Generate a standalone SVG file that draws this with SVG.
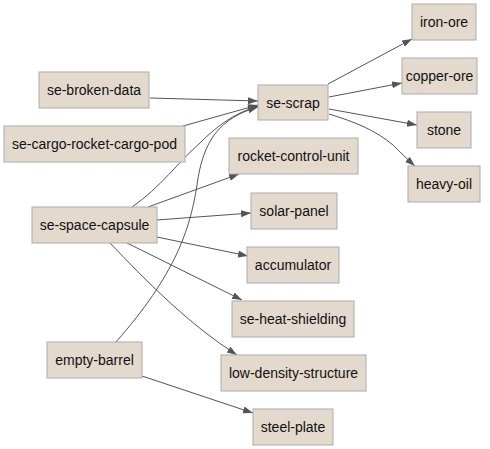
<svg xmlns="http://www.w3.org/2000/svg" width="490" height="449" viewBox="0 0 490 449">
<style>
.n rect{fill:#e3d9cd;stroke:#ababab;stroke-width:1}
.n text{font-family:"Liberation Sans",Arial,sans-serif;font-size:14px;fill:#111;text-anchor:middle}
.e path{fill:none;stroke:#555;stroke-width:1;marker-end:url(#a)}
</style>
<defs>
<marker id="a" markerUnits="userSpaceOnUse" markerWidth="11" markerHeight="8" refX="10" refY="3.5" orient="auto">
<path d="M0,0 L10,3.5 L0,7 z" fill="#555"/>
</marker>
</defs>
<g id="edges" class="e">
<path d="M150,98 L258,101"/>
<path d="M183,126 L258,105"/>
<path d="M132,207 C160,188 180,160 200,143 C215,128 232,114 258,106"/>
<path d="M116,342 C175,275 190,230 197,185 C203,140 220,118 258,107"/>
<path d="M148,207 L239,174"/>
<path d="M157,220 L251,213"/>
<path d="M157,237 L248,256"/>
<path d="M127,243 L242,300"/>
<path d="M110,243 C150,285 190,325 237,355"/>
<path d="M328,84 L412,39"/>
<path d="M329,97 L402,83"/>
<path d="M329,109 L417,125"/>
<path d="M329,114 C355,122 375,130 393,145 C400,152 407,159 415,166"/>
<path d="M142,376 L253,413"/>
</g>
<g id="se-broken-data" class="n"><rect x="39" y="72" width="110" height="36"/><text x="94" y="95">se-broken-data</text></g>
<g id="se-cargo-rocket-cargo-pod" class="n"><rect x="4" y="126" width="181" height="36"/><text x="94.5" y="149">se-cargo-rocket-cargo-pod</text></g>
<g id="se-scrap" class="n"><rect x="258" y="85" width="70" height="35"/><text x="293" y="107.5">se-scrap</text></g>
<g id="iron-ore" class="n"><rect x="412" y="4" width="64" height="36"/><text x="444" y="27">iron-ore</text></g>
<g id="copper-ore" class="n"><rect x="402" y="58" width="75" height="36"/><text x="439.5" y="81">copper-ore</text></g>
<g id="stone" class="n"><rect x="417" y="112" width="54" height="36"/><text x="444" y="135">stone</text></g>
<g id="heavy-oil" class="n"><rect x="408" y="166" width="72" height="36"/><text x="444" y="189">heavy-oil</text></g>
<g id="rocket-control-unit" class="n"><rect x="229" y="138" width="129" height="36"/><text x="293.5" y="161">rocket-control-unit</text></g>
<g id="se-space-capsule" class="n"><rect x="32" y="207" width="125" height="36"/><text x="94.5" y="230">se-space-capsule</text></g>
<g id="solar-panel" class="n"><rect x="251" y="193" width="86" height="36"/><text x="294" y="216">solar-panel</text></g>
<g id="accumulator" class="n"><rect x="247" y="247" width="92" height="36"/><text x="293" y="270">accumulator</text></g>
<g id="se-heat-shielding" class="n"><rect x="232" y="301" width="122" height="36"/><text x="293" y="324">se-heat-shielding</text></g>
<g id="low-density-structure" class="n"><rect x="221" y="355" width="145" height="36"/><text x="293.5" y="378">low-density-structure</text></g>
<g id="empty-barrel" class="n"><rect x="47" y="342" width="95" height="36"/><text x="94.5" y="365">empty-barrel</text></g>
<g id="steel-plate" class="n"><rect x="253" y="409" width="80" height="36"/><text x="293" y="432">steel-plate</text></g>
</svg>
